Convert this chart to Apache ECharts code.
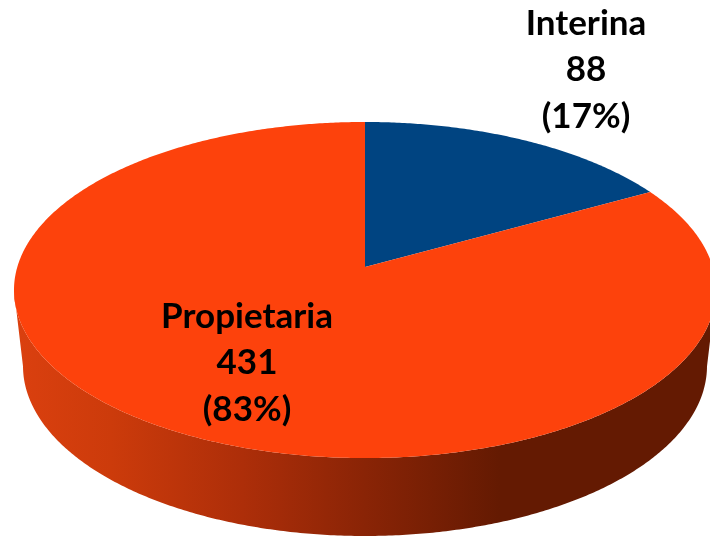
<!DOCTYPE html>
<html>
<head>
<meta charset="utf-8">
<style>html,body{margin:0;padding:0;background:#fff}#c{width:710px;height:536px}</style>
<script src="https://cdn.jsdelivr.net/npm/echarts@6/dist/echarts.min.js"></script>
</head>
<body>
<div id="c"></div>
<script>
const categories = ['Interina', 'Propietaria'];
const values = [88, 431];
const sliceColors = ['#004481', '#FD420C'];
const labelCenters = [[586, 70], [247, 363]];

const total = values.reduce((a, b) => a + b, 0);
const apex = [365, 267];
const top_ = { cx: 365, cy: 290, rx: 351, ry: 168 };
const bottom_ = { cx: 365, cy: 366, rx: 342, ry: 170 };
const persp = { a: 347.7, b: 164.9, k: -0.137 };

function rim(theta) {
  const u = Math.sin(theta), v = Math.cos(theta), d = 1 - persp.k * v;
  return [apex[0] + persp.a * u / d, apex[1] - persp.b * v / d];
}
function ellipseParam(p) {
  let t = Math.atan2((p[0] - top_.cx) / top_.rx, (top_.cy - p[1]) / top_.ry);
  return t < 0 ? t + 2 * Math.PI : t;
}

const sideGradient = {
  type: 'linear', x: 14, y: 0, x2: 500, y2: 0, global: true,
  colorStops: [
    { offset: 0, color: '#DB400F' },
    { offset: 0.2, color: '#CC3B0B' },
    { offset: 0.47, color: '#AD2E09' },
    { offset: 0.72, color: '#8A2406' },
    { offset: 1, color: '#641A02' }
  ]
};

function renderItem(params, api) {
  const i = params.dataIndex;
  let start = 0;
  for (let j = 0; j < i; j++) start += values[j] / total;
  const end = start + values[i] / total;
  const a0 = start * 2 * Math.PI, a1 = end * 2 * Math.PI;
  const n = Math.max(2, Math.ceil((a1 - a0) / (Math.PI / 360)));
  const facePts = [apex];
  const wallTop = [], wallBottom = [];
  for (let s = 0; s <= n; s++) {
    const p = rim(a0 + (a1 - a0) * s / n);
    facePts.push(p);
    const t = ellipseParam(p);
    if (t >= Math.PI / 2 && t <= 3 * Math.PI / 2) {
      wallTop.push(p);
      wallBottom.push([bottom_.cx + bottom_.rx * Math.sin(t), bottom_.cy - bottom_.ry * Math.cos(t)]);
    }
  }
  const children = [];
  if (wallTop.length > 1) {
    children.push({
      type: 'polygon',
      shape: { points: wallTop.concat(wallBottom.reverse()) },
      style: { fill: sideGradient }
    });
  }
  children.push({
    type: 'polygon',
    shape: { points: facePts },
    style: { fill: sliceColors[i] }
  });
  children.push({
    type: 'text',
    z2: 10,
    style: {
      x: labelCenters[i][0],
      y: labelCenters[i][1],
      text: categories[i] + '\n' + values[i] + '\n(' + Math.round(values[i] / total * 100) + '%)',
      fill: '#000',
      font: 'bold 35px Lato, "Open Sans", sans-serif',
      lineHeight: 46.5,
      align: 'center',
      verticalAlign: 'middle'
    }
  });
  return { type: 'group', children };
}

const chart = echarts.init(document.getElementById('c'), null, { renderer: 'canvas' });
chart.setOption({
  animation: false,
  backgroundColor: '#fff',
  series: [{
    type: 'custom',
    coordinateSystem: 'none',
    silent: true,
    renderItem,
    data: values.map((v, i) => ({ name: categories[i], value: v }))
  }]
});
</script>
</body>
</html>
